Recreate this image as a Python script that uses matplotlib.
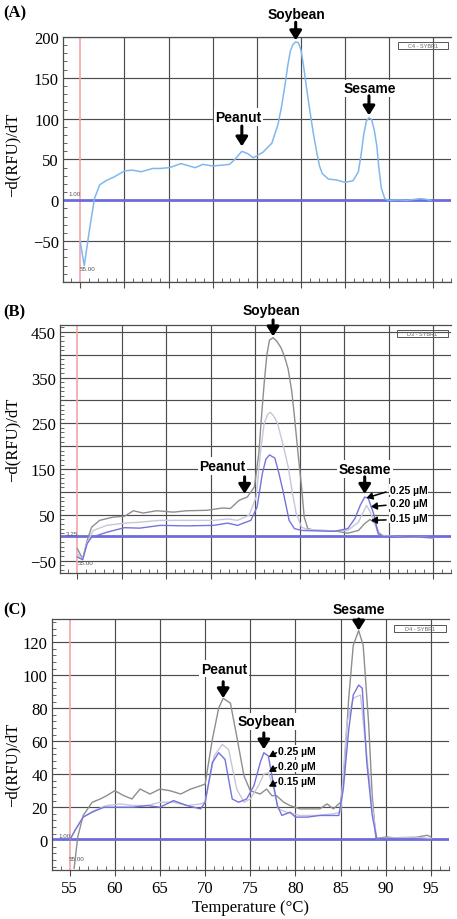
'''
Melting curve derivative plots, three panels (A), (B), (C).
'''

import matplotlib
matplotlib.use('Agg')
import matplotlib.pyplot as plt
from matplotlib.ticker import MultipleLocator, FixedLocator
from matplotlib.patches import Rectangle

plt.rcParams['font.family'] = ['Liberation Serif', 'DejaVu Serif']

# panel A: one curve
a_temp = [55.0, 55.45, 56.0, 56.6, 57.2, 57.9, 58.9, 60.0, 60.9, 61.9, 63.2, 64.0,
          65.1, 66.4, 68.0, 68.9, 70.0, 71.9, 72.5, 73.3, 74.0, 74.6, 75.7, 76.7,
          77.4, 77.8, 78.2, 78.5, 78.8, 79.1, 79.4, 79.7, 80.0, 80.3, 80.6, 81.0,
          81.4, 81.8, 82.1, 82.4, 83.1, 84.0, 85.0, 85.9, 86.5, 86.8, 87.1, 87.4,
          87.7, 88.0, 88.3, 88.6, 88.8, 89.1, 89.5, 89.9, 91.0, 92.0, 93.5, 94.0,
          94.7]
a_vals = [-51, -80, -39, 2, 19, 24, 29, 36, 37, 35, 39, 39,
          40, 45, 40, 44, 42, 44, 50, 60, 57, 52, 59, 70,
          93, 115, 142, 165, 183, 191, 194, 193, 184, 164, 140, 110,
          82, 58, 42, 33, 26, 25, 22, 24, 35, 55, 80, 97,
          101, 99, 86, 66, 42, 15, 2, 0, 0.5, 0, 2, 1.5,
          0]

# panel B: three primer concentrations
b_gray_t = [55.0, 55.6, 56.1, 56.6, 57.5, 59.0, 60.3, 61.3, 62.4, 63.9, 65.8, 67.3,
            69.6, 71.3, 72.2, 73.2, 74.1, 74.9, 75.4, 75.7, 76.0, 76.3, 76.6, 77.0,
            77.4, 77.9, 78.3, 78.7, 79.1, 79.4, 79.8, 80.2, 80.5, 80.9, 81.7, 83.9,
            85.4, 86.6, 87.3, 87.9, 88.5, 89.0, 90.0, 95.0]
b_gray_v = [-24, -46, -6, 23, 38, 45, 47, 59, 54, 59, 56, 59,
            60, 65, 64, 82, 89, 111, 185, 265, 338, 400, 432, 437,
            430, 415, 395, 368, 320, 265, 185, 111, 45, 20, 16, 15,
            10, 16, 31, 40, 31, 5, 4, 0]
b_light_t = [55.0, 55.6, 56.1, 56.8, 58.3, 60.3, 62.0, 64.3, 67.3, 70.3, 71.9, 73.0,
             74.3, 75.1, 75.6, 76.0, 76.4, 76.7, 77.1, 77.5, 78.1, 78.7, 79.2, 79.6,
             80.2, 80.9, 83.9, 85.4, 86.6, 87.5, 88.0, 88.7, 89.3, 95.0]
b_light_v = [-35, -46, -10, 16, 27, 32, 34, 38, 38, 38, 41, 38,
             49, 89, 190, 250, 270, 274, 265, 250, 205, 155, 95, 53,
             23, 18, 15, 16, 34, 71, 53, 16, 5, 0]
b_blue_t = [55.0, 55.6, 56.1, 56.6, 58.3, 60.3, 62.0, 64.3, 67.3, 70.3, 71.9, 73.0,
            74.5, 75.2, 75.8, 76.2, 76.6, 77.2, 77.6, 78.1, 78.8, 79.4, 80.2, 83.9,
            85.4, 86.2, 86.8, 87.3, 87.7, 88.3, 88.8, 89.4, 91.0, 95.0]
b_blue_v = [-42, -48, -13, 1, 12, 22, 21, 27, 26, 27, 32, 27,
            38, 67, 141, 172, 181, 174, 145, 104, 38, 20, 16, 14,
            20, 42, 71, 89, 86, 53, 9, 3, 4, 0]

# panel C: three primer concentrations
c_gray_t = [55.5, 55.9, 56.5, 57.5, 58.4, 59.1, 60.0, 61.0, 61.9, 62.8, 63.9, 65.0,
            66.1, 67.3, 68.4, 69.5, 70.0, 70.8, 71.5, 72.0, 72.8, 73.5, 74.3, 75.0,
            76.1, 76.8, 77.4, 77.9, 78.7, 79.4, 80.5, 81.6, 82.7, 83.5, 84.2, 85.0,
            85.3, 85.9, 86.4, 87.0, 87.5, 88.1, 88.5, 88.9, 90.1, 91.5, 93.0, 94.6,
            95.0]
c_gray_v = [-17, 2, 15, 23, 25, 27, 30, 27, 25, 31, 28, 31,
            30, 28, 31, 33, 34, 61, 80, 86, 83, 63, 39, 30,
            28, 31, 27, 27, 23, 21, 19, 19, 19, 22, 19, 23,
            35, 86, 118, 127, 118, 71, 27, 1, 2, 1, 1.5, 3,
            2]
c_light_t = [55.0, 55.6, 56.5, 57.7, 59.1, 60.6, 62.0, 63.6, 65.0, 66.5, 68.0, 69.5,
             70.0, 71.0, 71.9, 72.6, 73.5, 74.3, 75.0, 75.9, 76.5, 77.0, 77.6, 78.1,
             79.0, 80.5, 82.3, 84.2, 85.0, 85.7, 86.4, 87.2, 87.9, 88.5, 89.0, 91.0,
             93.0, 95.0]
c_light_v = [0, 6, 14, 18, 21, 22, 21, 21, 23, 23, 21, 22,
             23, 51, 58, 55, 31, 23, 25, 33, 40, 41, 31, 19,
             17, 15, 15, 16, 17, 71, 86, 88, 51, 21, 1, 1.5,
             2, 1]
c_blue_t = [55.0, 55.6, 56.5, 57.5, 58.8, 60.0, 62.0, 63.6, 65.0, 66.5, 68.0, 69.5,
            70.0, 70.8, 71.5, 72.2, 73.0, 73.7, 74.6, 75.4, 76.1, 76.5, 77.0, 77.4,
            78.0, 78.5, 79.4, 80.0, 81.3, 82.7, 83.8, 84.8, 85.3, 85.9, 86.4, 87.0,
            87.4, 87.9, 88.5, 89.0, 92.0, 95.0]
c_blue_v = [0, 6, 14, 17, 20, 20, 20, 21, 20, 24, 21, 19,
            23, 47, 53, 49, 25, 23, 25, 33, 47, 53, 51, 39,
            21, 15, 17, 14, 14, 15, 15, 15, 31, 67, 88, 94,
            92, 47, 15, 1, 1, 0.5]

conc_labels = ['0.25 µM', '0.20 µM', '0.15 µM']

GRID = '#4d4d4d'
RED = '#f4a4a4'
THR = '#6c6cd8'
C_A = '#80b8ee'
C_GRAY = '#8e8e8e'
C_LIGHT = '#c6c6dc'
C_BLUE = '#7474dc'

fig = plt.figure(figsize=(4.57, 9.2), dpi=100)
axA = fig.add_axes([0.138, 0.6924, 0.849, 0.2663])
axB = fig.add_axes([0.1313, 0.3761, 0.8556, 0.2696])
axC = fig.add_axes([0.1138, 0.0533, 0.8687, 0.2728])


def style(ax, ylim, grid_step, labels, minor, box_text, thr, show_x):
    ax.set_xlim(53.05, 97.0)
    ax.set_ylim(*ylim)
    ax.xaxis.set_major_locator(FixedLocator(range(55, 96, 5)))
    ax.xaxis.set_minor_locator(MultipleLocator(1))
    ax.yaxis.set_minor_locator(MultipleLocator(minor))
    ticks = []
    v = grid_step * int(ylim[0] / grid_step)
    while v <= ylim[1] + 1e-9:
        if v >= ylim[0]:
            ticks.append(v)
        v += grid_step
    ax.set_yticks(ticks)
    ax.set_yticklabels([labels.get(t, '') for t in ticks])
    for t in ticks:
        if t != 0:
            ax.axhline(t, color=GRID, lw=0.85, zorder=1)
    for t in range(60, 96, 5):
        ax.axvline(t, color=GRID, lw=0.85, zorder=1)
    ax.axvline(55, color=RED, lw=1.2, zorder=2)
    ax.axhline(thr, color=THR, lw=2.0, zorder=2)
    ax.tick_params(axis='y', which='major', length=0, pad=3, labelsize=12)
    ax.tick_params(axis='y', which='minor', direction='in', length=3, color=GRID)
    ax.tick_params(axis='x', which='major', direction='out', length=4, color=GRID,
                   labelsize=12, labelbottom=show_x)
    ax.tick_params(axis='x', which='minor', direction='in', length=3, color=GRID)
    for s in ['left', 'bottom', 'top']:
        ax.spines[s].set_color(GRID)
        ax.spines[s].set_linewidth(0.9)
    ax.spines['right'].set_visible(False)
    # instrument well label box
    ax.add_patch(Rectangle((0.862, 0.95), 0.13, 0.028, transform=ax.transAxes,
                           fill=False, edgecolor='#555555', lw=0.7, zorder=5))
    ax.text(0.927, 0.964, box_text, transform=ax.transAxes, ha='center', va='center',
            fontsize=4, color='#666666', family='Liberation Sans', zorder=6)


def label(ax, x, y, s, size=10):
    ax.text(x, y, s, ha='center', va='center', fontsize=size, fontweight='bold',
            family='Liberation Sans', zorder=6,
            bbox=dict(facecolor='white', edgecolor='none', pad=1.2))


def arrow(ax, x, y0, y1):
    ax.annotate('', xy=(x, y1), xytext=(x, y0), zorder=7,
                arrowprops=dict(arrowstyle='-|>,head_width=0.35,head_length=0.55',
                                lw=2.2, color='black', mutation_scale=10,
                                shrinkA=0, shrinkB=0))


def small_arrow(ax, xy, xytext):
    ax.annotate('', xy=xy, xytext=xytext, zorder=7,
                arrowprops=dict(arrowstyle='-|>,head_width=0.3,head_length=0.5',
                                lw=1.1, color='black', mutation_scale=7,
                                shrinkA=0, shrinkB=0))


def tiny(ax, x, y, s):
    ax.text(x, y, s, fontsize=4.5, color='#555555', family='Liberation Sans',
            ha='center', va='center', zorder=6)


# ---- (A)
style(axA, (-100, 200), 50, {t: ('−50' if t < 0 else str(t)) for t in range(-50, 201, 50)},
      10, 'C4 - SYBR1', 1.0, False)
axA.plot(a_temp, a_vals, color=C_A, lw=1.1, zorder=3)
label(axA, 72.9, 102, 'Peanut')
arrow(axA, 73.3, 91, 66)
label(axA, 79.5, 228, 'Soybean')
arrow(axA, 79.4, 218, 196)
label(axA, 87.8, 137, 'Sesame')
arrow(axA, 87.7, 128, 104)
tiny(axA, 54.4, 8, '1.00')
tiny(axA, 55.8, -84, '55.00')

# ---- (B)
style(axB, (-77, 465), 50, {t: ('−50' if t < 0 else str(t)) for t in range(-50, 451, 100)},
      10, 'D3 - SYBR1', 3.25, False)
axB.plot(b_gray_t, b_gray_v, color=C_GRAY, lw=1.0, zorder=3)
axB.plot(b_light_t, b_light_v, color=C_LIGHT, lw=1.0, zorder=3)
axB.plot(b_blue_t, b_blue_v, color=C_BLUE, lw=1.0, zorder=3)
label(axB, 71.3, 157, 'Peanut')
arrow(axB, 73.8, 133, 96)
label(axB, 76.8, 498, 'Soybean')
arrow(axB, 77.0, 476, 440)
label(axB, 87.3, 150, 'Sesame')
arrow(axB, 87.3, 133, 96)
for s, ty, tip in zip(conc_labels, [105, 76, 44], [(87.5, 87), (88.0, 68), (88.0, 38)]):
    axB.text(90.1, ty, s, fontsize=7.5, fontweight='bold', family='Liberation Sans',
             ha='left', va='center', zorder=6,
             bbox=dict(facecolor='white', edgecolor='none', pad=0.5))
    small_arrow(axB, tip, (89.7, ty - 5))
tiny(axB, 54.4, 10, '3.25')
tiny(axB, 55.9, -53, '55.00')

# ---- (C)
style(axC, (-18, 134), 20, {t: str(t) for t in range(0, 121, 20)},
      4, 'D4 - SYBR1', 1.0, True)
axC.plot(c_gray_t, c_gray_v, color=C_GRAY, lw=1.0, zorder=3)
axC.plot(c_light_t, c_light_v, color=C_LIGHT, lw=1.0, zorder=3)
axC.plot(c_blue_t, c_blue_v, color=C_BLUE, lw=1.0, zorder=3)
label(axC, 72.1, 104, 'Peanut')
arrow(axC, 72.0, 96, 86)
label(axC, 76.8, 72, 'Soybean')
arrow(axC, 76.5, 65, 55)
label(axC, 87.0, 140, 'Sesame')
arrow(axC, 87.0, 134, 127)
for s, ty in zip(conc_labels, [54, 45, 36]):
    axC.text(78.1, ty, s, fontsize=7.5, fontweight='bold', family='Liberation Sans',
             ha='left', va='center', zorder=6,
             bbox=dict(facecolor='white', edgecolor='none', pad=0.5))
    small_arrow(axC, (77.05, ty - 3.5), (77.9, ty - 1))
tiny(axC, 54.4, 3, '1.00')
tiny(axC, 55.8, -11, '55.00')
axC.set_xlabel('Temperature (°C)', fontsize=12, labelpad=2)

# y labels and panel letters
for ypx in [155, 440, 765]:
    fig.text(0.028, 1 - ypx / 920, '−d(RFU)/dT', rotation=90, ha='center', va='center',
             fontsize=12)
for s, ypx in [('(A)', 13), ('(B)', 312), ('(C)', 610)]:
    fig.text(0.008, 1 - ypx / 920, s, ha='left', va='center', fontsize=12,
             fontweight='bold')

fig.savefig('out.png', dpi=100)
